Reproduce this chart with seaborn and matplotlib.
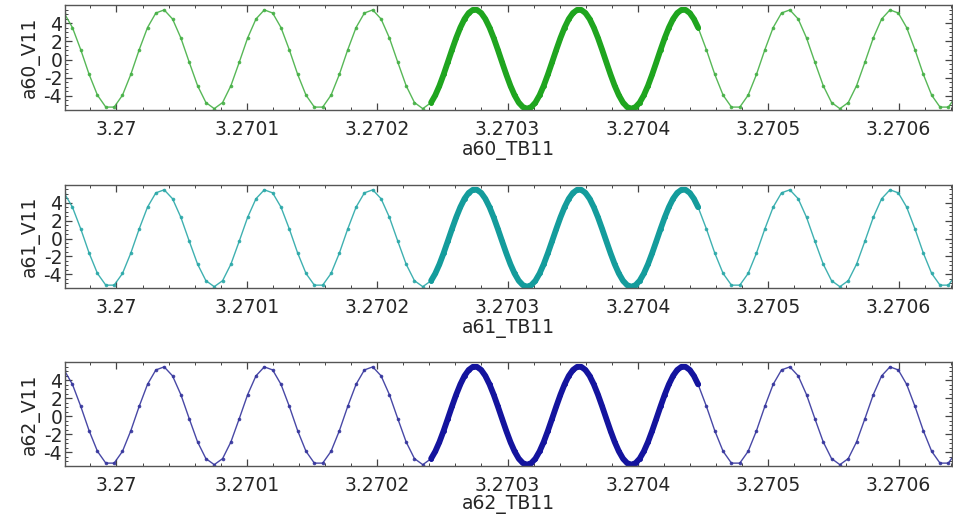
import numpy as np
import pandas as pd
import matplotlib
matplotlib.use("Agg")
import matplotlib.pyplot as plt
from matplotlib.ticker import FixedLocator, MultipleLocator
import seaborn as sns

# ---------------- data ----------------
channels = ["a60", "a61", "a62"]
thin_colors = ["#45b045", "#2aa8a8", "#34349c"]
thick_colors = ["#1fa51f", "#149c9c", "#14149e"]

# slow-sampled trace (sample step 6.4e-6 s)
sparse_t0 = 3.2699534
sparse_dt = 6.4e-6
sparse_v11 = [
    5.46, 5.12, 3.52, 1.07, -1.63, -3.92, -5.23,
    -5.23, -3.92, -1.63, 1.07, 3.52, 5.12, 5.46, 4.46, 2.37, -0.29, -2.87, -4.73, -5.40,
    -4.73, -2.87, -0.29, 2.37, 4.46, 5.46, 5.12, 3.52, 1.07, -1.63, -3.92, -5.23,
    -5.23, -3.92, -1.63, 1.07, 3.52, 5.12, 5.46, 4.46, 2.37, -0.29, -2.87, -4.73, -5.40,
    -4.73, -2.87, -0.29, 2.37, 4.46, 5.46, 5.12, 3.52, 1.07, -1.63, -3.92, -5.23,
    -5.23, -3.92, -1.63, 1.07, 3.52, 5.12, 5.46, 4.46, 2.37, -0.29, -2.87, -4.73, -5.40,
    -4.73, -2.87, -0.29, 2.37, 4.46, 5.46, 5.12, 3.52, 1.07, -1.63, -3.92, -5.23,
    -5.23, -3.92, -1.63, 1.07, 3.52, 5.12, 5.46, 4.46, 2.37, -0.29, -2.87, -4.73, -5.40,
    -4.73, -2.87, -0.29, 2.37, 4.46, 5.46, 5.12, 3.52, 1.07, -1.63, -3.92, -5.23,
    -5.23, -3.92,
]

# fast-sampled trace (sample step 3.2e-6 s)
dense_t0 = 3.2702414
dense_dt = 3.2e-6
dense_v11 = [
    -4.73, -3.92, -2.87, -1.63, -0.29, 1.07, 2.37, 3.52, 4.46, 5.12, 5.46, 5.46,
    5.12, 4.46, 3.52, 2.37, 1.07, -0.29, -1.63, -2.87, -3.92, -4.73, -5.23,
    -5.40, -5.23, -4.73, -3.92, -2.87, -1.63, -0.29, 1.07, 2.37, 3.52, 4.46, 5.12,
    5.46, 5.46, 5.12, 4.46, 3.52, 2.37, 1.07, -0.29, -1.63, -2.87, -3.92, -4.73, -5.23,
    -5.40, -5.23, -4.73, -3.92, -2.87, -1.63, -0.29, 1.07, 2.37, 3.52, 4.46, 5.12,
    5.46, 5.46, 5.12, 4.46, 3.52,
]

x_ticks = [3.27, 3.2701, 3.2702, 3.2703, 3.2704, 3.2705, 3.2706]
x_tick_labels = ["3.27", "3.2701", "3.2702", "3.2703", "3.2704", "3.2705", "3.2706"]
y_ticks = [-4, -2, 0, 2, 4]
y_tick_labels = ["-4", "-2", "0", "2", "4"]
x_range = (3.2699605, 3.270641)
y_range = (-5.55, 6.0)

# ---------------- plot ----------------
sns.set_style("white")
plt.rcParams["font.family"] = ["DejaVu Sans"]
text_color = "#262626"

fig = plt.figure(figsize=(9.54, 5.16), dpi=100)
W, H = 954.0, 516.0
panels_px = [(5, 110), (185, 288), (362, 466)]
left_px, right_px = 65, 952

t_sparse = sparse_t0 + sparse_dt * np.arange(len(sparse_v11))
t_dense = dense_t0 + dense_dt * np.arange(len(dense_v11))

for i, ch in enumerate(channels):
    top, bot = panels_px[i]
    ax = fig.add_axes([left_px / W, 1 - bot / H, (right_px - left_px) / W, (bot - top) / H])
    df_s = pd.DataFrame({"t": t_sparse, "v": sparse_v11})
    df_d = pd.DataFrame({"t": t_dense, "v": dense_v11})
    sns.lineplot(data=df_s, x="t", y="v", ax=ax, color=thin_colors[i], linewidth=1.0,
                 marker="o", markersize=2.6, markeredgewidth=0, sort=False, alpha=0.9)
    sns.lineplot(data=df_d, x="t", y="v", ax=ax, color=thick_colors[i], linewidth=4.2,
                 marker="o", markersize=3.5, markeredgewidth=0, sort=False)
    ax.set_xlim(*x_range)
    ax.set_ylim(*y_range)
    ax.xaxis.set_major_locator(FixedLocator(x_ticks))
    ax.set_xticklabels(x_tick_labels)
    ax.xaxis.set_minor_locator(MultipleLocator(2e-5))
    ax.yaxis.set_major_locator(FixedLocator(y_ticks))
    ax.set_yticklabels(y_tick_labels)
    ax.yaxis.set_minor_locator(MultipleLocator(0.5))
    ax.tick_params(which="both", direction="in", top=True, right=True,
                   bottom=True, left=True, colors="#444444", labelcolor=text_color,
                   labelsize=13.5)
    ax.tick_params(which="major", length=5, width=0.9)
    ax.tick_params(which="minor", length=2.5, width=0.7)
    ax.tick_params(axis="x", which="major", pad=7)
    ax.tick_params(axis="y", which="major", pad=2)
    for s in ax.spines.values():
        s.set_color("#555555")
        s.set_linewidth(1.0)
    ax.set_xlabel(f"{ch}_TB11", fontsize=13.5, color=text_color,
                  labelpad=2 if i < 2 else 0.5)
    ax.set_ylabel(f"{ch}_V11", fontsize=13.5, color=text_color, labelpad=3)

fig.savefig("out.png", dpi=100, facecolor="white")
